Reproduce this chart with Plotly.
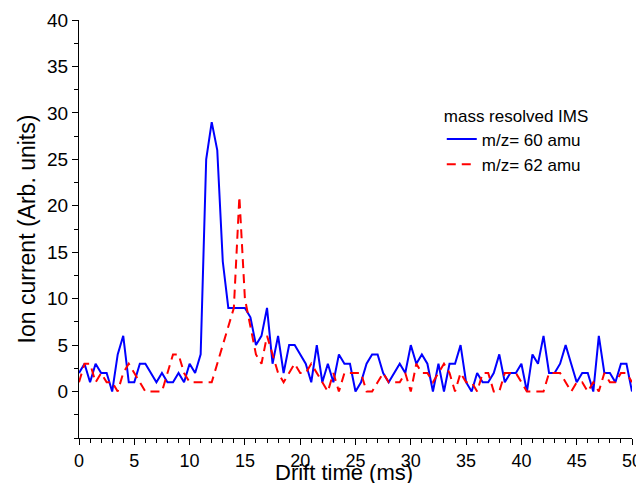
import numpy as np
import plotly.graph_objects as go

# drift time axis, 0.5 ms steps
drift_time = np.arange(0, 50.01, 0.5)

# m/z = 60 amu (solid blue)
mz60 = [2, 3, 1, 3, 2, 2, 0, 4, 6, 1,
        1, 3, 3, 2, 1, 2, 1, 1, 2, 1,
        3, 2, 4, 25, 29, 26, 14, 9, 9, 9,
        9, 8, 5, 6, 9, 3, 6, 2, 5, 5,
        4, 3, 1, 5, 1, 3, 1, 4, 3, 3,
        0, 1, 3, 4, 4, 2, 1, 2, 3, 2,
        5, 3, 4, 3, 0, 3, 0, 3, 3, 5,
        1, 0, 2, 1, 1, 2, 4, 1, 2, 2,
        3, 0, 4, 3, 6, 2, 2, 3, 5, 3,
        1, 2, 2, 0, 6, 2, 2, 1, 3, 3,
        0]

# m/z = 62 amu (dashed red)
mz62 = [1, 3, 3, 1, 2, 1, 1, 0, 2, 3,
        2, 1, 0, 0, 0, 0, 2, 4, 4, 2,
        1, 1, 1, 1, 1, 3, 5, 7, 9, 21,
        10, 7, 4, 3, 6, 4, 2, 1, 2, 3,
        2, 2, 3, 2, 1, 0, 2, 0, 2, 2,
        2, 2, 0, 0, 1, 2, 1, 1, 1, 2,
        0, 3, 2, 2, 1, 2, 3, 2, 0, 2,
        1, 1, 0, 2, 2, 0, 0, 2, 2, 2,
        1, 0, 0, 0, 0, 2, 2, 2, 1, 0,
        1, 1, 0, 1, 0, 2, 1, 1, 2, 2,
        1]

FONT = "Arial, Liberation Sans, sans-serif"

fig = go.Figure()
fig.add_trace(go.Scatter(x=drift_time, y=mz60, mode="lines", name="m/z= 60 amu",
                         line=dict(color="#0000FF", width=2)))
fig.add_trace(go.Scatter(x=drift_time, y=mz62, mode="lines", name="m/z= 62 amu",
                         line=dict(color="#FF0000", width=2, dash="9px,6px")))

# page has an 8px body margin, so the figure is a bit smaller than the window
fig.update_layout(
    width=636, height=475,
    margin=dict(l=71, r=12, t=12, b=45),
    plot_bgcolor="white", paper_bgcolor="white",
    font=dict(family=FONT, size=18, color="black"),
    showlegend=True,
    legend=dict(
        title=dict(text="mass resolved IMS", font=dict(size=17)),
        font=dict(size=17),
        x=0.656, y=0.81, xanchor="left", yanchor="top",
        bgcolor="rgba(0,0,0,0)", tracegroupgap=0, itemwidth=30,
    ),
)
fig.update_xaxes(
    range=[0, 50], tickvals=list(range(0, 51, 5)), automargin=False,
    showline=True, linecolor="black", linewidth=1, showgrid=False, zeroline=False,
    ticks="outside", ticklen=6, tickcolor="black",
    minor=dict(ticks="outside", ticklen=4, dtick=1, tick0=0, tickcolor="black"),
    tickfont=dict(size=18),
)
fig.update_yaxes(
    range=[-5, 40], tickvals=list(range(0, 41, 5)), automargin=False,
    showline=True, linecolor="black", linewidth=1, showgrid=False, zeroline=False,
    ticks="outside", ticklen=6, tickcolor="black",
    minor=dict(ticks="outside", ticklen=4, dtick=2.5, tick0=0, tickcolor="black"),
    title=dict(text="Ion current (Arb. units)", font=dict(size=23), standoff=5),
    tickfont=dict(size=19),
)
# x title sits low, close to the bottom edge like the original
fig.add_annotation(text="Drift time (ms)", xref="paper", yref="paper",
                   x=0.48, y=-0.082, xanchor="center", yanchor="middle",
                   showarrow=False, font=dict(size=22))

fig.write_html("out.html")
